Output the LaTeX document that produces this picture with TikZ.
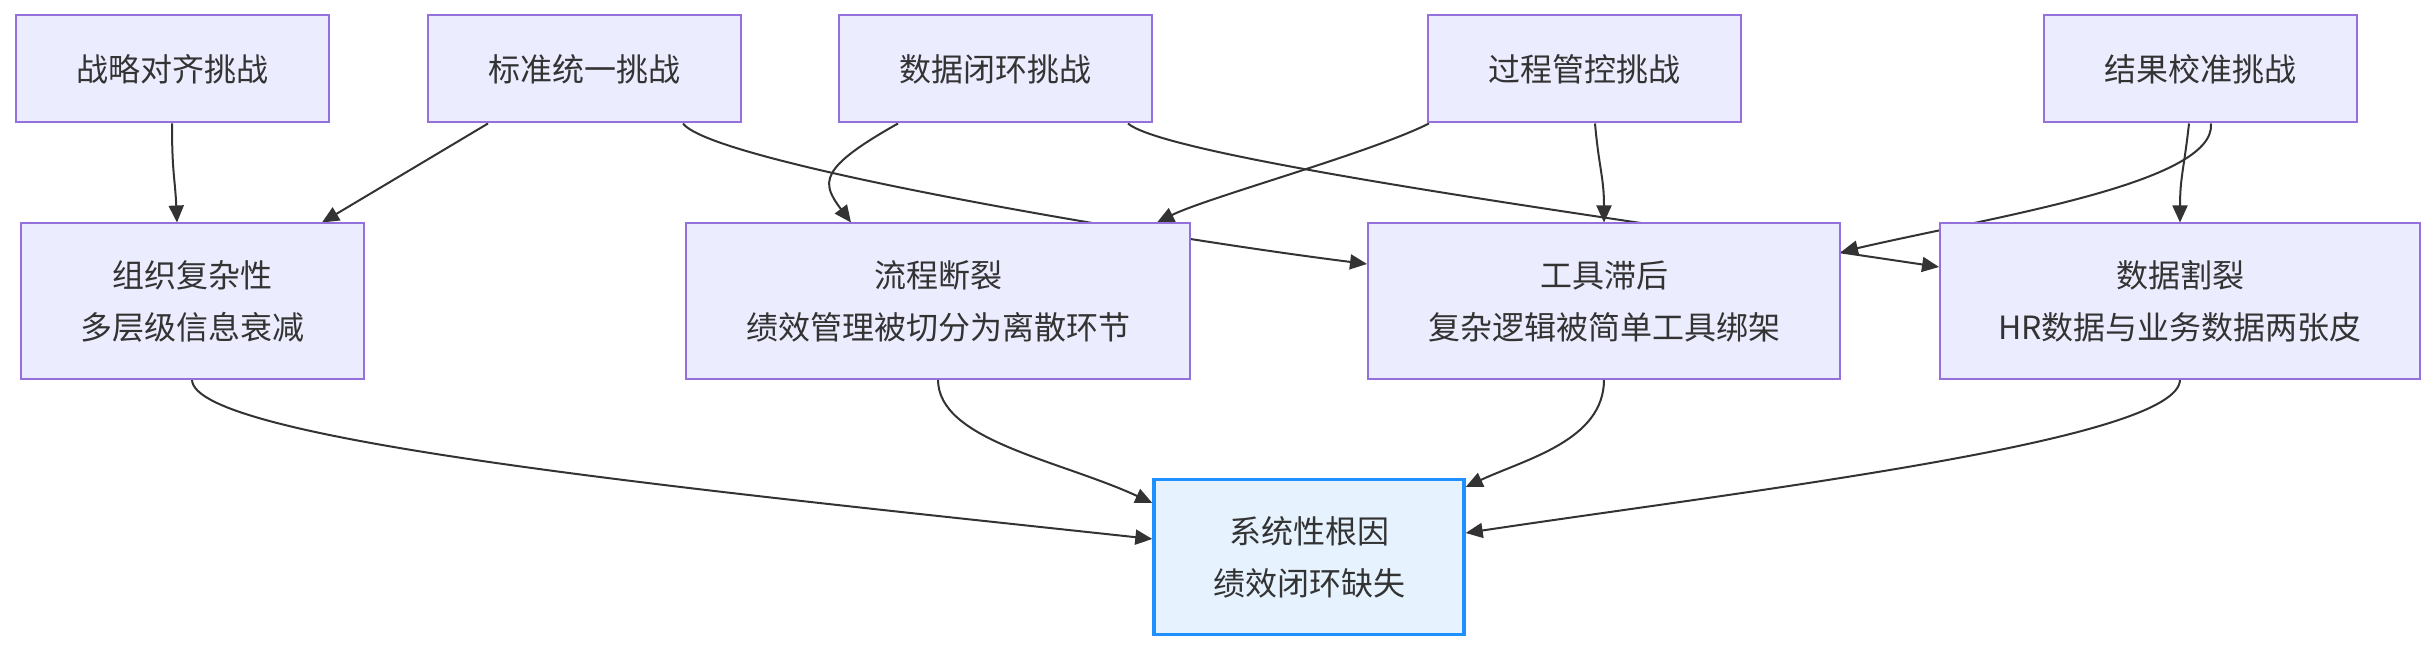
\documentclass[tikz,border=0pt]{standalone}
\usepackage{fontspec}
\setmainfont{Noto Sans CJK SC}
\usetikzlibrary{arrows.meta,backgrounds}
\definecolor{boxfill}{HTML}{ECECFF}
\definecolor{boxline}{HTML}{9370DB}
\definecolor{rootfill}{HTML}{E6F3FF}
\definecolor{rootline}{HTML}{1E90FF}
\definecolor{inkgray}{HTML}{333333}
\begin{document}
\begin{tikzpicture}[x=0.5pt, y=-0.5pt,
  challenge/.style={draw=boxline, fill=boxfill, line width=1pt, minimum width=156.5pt,
    minimum height=53.5pt, inner sep=0pt, text=inkgray, align=center,
    font=\fontsize{16}{26}\selectfont},
  cause/.style={challenge, minimum height=77.5pt},
  root/.style={cause, draw=rootline, fill=rootfill, line width=1.7pt, minimum width=155pt},
  link/.style={draw=inkgray, line width=1pt, -{Triangle[length=8.5pt,width=7.5pt]}}]
  \useasboundingbox (0,0) rectangle (2435,652);
  % challenges
  \node[challenge] (strat) at (172,69) {战略对齐挑战};
  \node[challenge] (stand) at (584,69) {标准统一挑战};
  \node[challenge] (dloop) at (995,69) {数据闭环挑战};
  \node[challenge] (proc) at (1584,69) {过程管控挑战};
  \node[challenge] (result) at (2200,69) {结果校准挑战};
  % causes
  \node[cause, minimum width=171.5pt] (org) at (192,301) {组织复杂性\\多层级信息衰减};
  \node[cause, minimum width=252pt] (flow) at (938,301) {流程断裂\\绩效管理被切分为离散环节};
  \node[cause, minimum width=236pt] (tool) at (1604,301) {工具滞后\\复杂逻辑被简单工具绑架};
  \node[cause, minimum width=240pt] (data) at (2180,301) {数据割裂\\HR数据与业务数据两张皮};
  % root cause
  \node[root] (root) at (1309,557) {系统性根因\\绩效闭环缺失};
  \begin{scope}[on background layer]
    \draw[link] (strat.south) .. controls +(0,50) and +(-2,-45) .. ([xshift=-7.5pt]org.north);
    \draw[link] ([xshift=-48pt]stand.south) -- ([xshift=65pt]org.north);
    \draw[link] ([xshift=49.5pt]stand.south) .. controls +(30,40) and +(-200,-25) .. ([yshift=18.5pt]tool.west);
    \draw[link] ([xshift=-48.5pt]dloop.south) .. controls +(-80,45) and +(-30,-40) .. ([xshift=-43.5pt]flow.north);
    \draw[link] ([xshift=66.5pt]dloop.south) .. controls +(40,35) and +(-300,-45) .. ([yshift=17pt]data.west);
    \draw[link] ([xshift=-77.5pt]proc.south) .. controls +(-60,30) and +(50,-25) .. ([xshift=109.5pt]flow.north);
    \draw[link] ([xshift=5.5pt]proc.south) .. controls +(4,45) and +(0,-45) .. (tool.north);
    \draw[link] ([xshift=5.5pt]result.south) .. controls +(5,60) and +(150,-35) .. ([yshift=24.5pt]tool.east);
    \draw[link] ([xshift=-5.5pt]result.south) .. controls +(-5,45) and +(0,-45) .. (data.north);
    \draw[link] (org.south) .. controls +(0,61) and +(-454,-49) .. ([yshift=9pt]root.west);
    \draw[link] (flow.south) .. controls +(0,61) and +(-93,-43) .. ([yshift=27pt]root.west);
    \draw[link] (tool.south) .. controls +(0,61) and +(60,-28) .. ([yshift=35pt]root.east);
    \draw[link] (data.south) .. controls +(0,61) and +(286,-43) .. ([yshift=12pt]root.east);
  \end{scope}
\end{tikzpicture}
\end{document}
